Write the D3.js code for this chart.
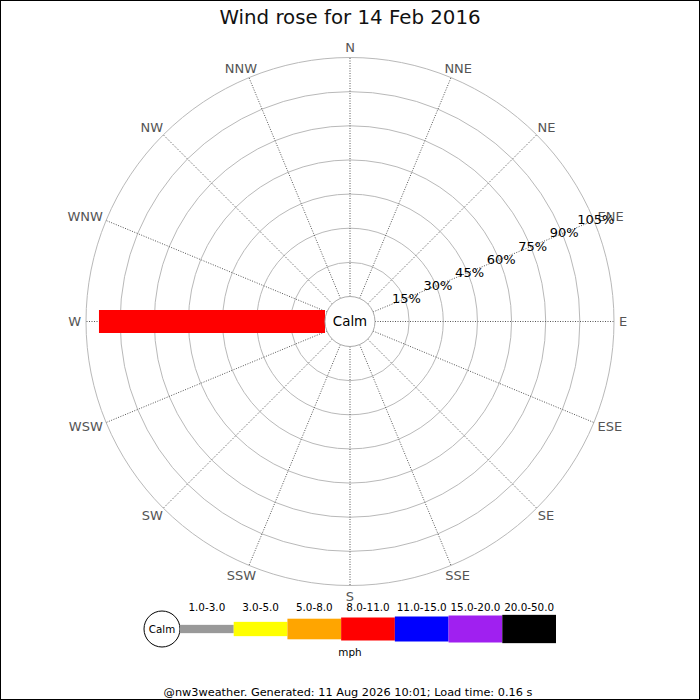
<!DOCTYPE html>
<html>
<head>
    <meta charset="utf-8">
    <script src="https://d3js.org/d3.v7.min.js"></script>
    <title>wind rose</title>
    <style>
        body { margin: 0; background: #fff; }
        text { font-family: "DejaVu Sans", sans-serif; }
    </style>
</head>
<body>
<svg id="rose"></svg>
<script>
    // compass points, clockwise from N
    const directions = ["N","NNE","NE","ENE","E","ESE","SE","SSE","S","SSW","SW","WSW","W","WNW","NW","NNW"];
    // speed classes (mph)
    const speedBins = ["1.0-3.0","3.0-5.0","5.0-8.0","8.0-11.0","11.0-15.0","15.0-20.0","20.0-50.0"];
    const binColors = ["#999999","#ffff00","#ffa500","#ff0000","#0000ff","#a020f0","#000000"];
    // % of time per direction, one value per speed class
    const dirShares = [
        [0,0,0,0,0,0,0],      // N
        [0,0,0,0,0,0,0],      // NNE
        [0,0,0,0,0,0,0],      // NE
        [0,0,0,0,0,0,0],      // ENE
        [0,0,0,0,0,0,0],      // E
        [0,0,0,0,0,0,0],      // ESE
        [0,0,0,0,0,0,0],      // SE
        [0,0,0,0,0,0,0],      // SSE
        [0,0,0,0,0,0,0],      // S
        [0,0,0,0,0,0,0],      // SSW
        [0,0,0,0,0,0,0],      // SW
        [0,0,0,0,0,0,0],      // WSW
        [0,0,0,99.3,0,0,0],   // W
        [0,0,0,0,0,0,0],      // WNW
        [0,0,0,0,0,0,0],      // NW
        [0,0,0,0,0,0,0]       // NNW
    ];
    const ringTicks = [15, 30, 45, 60, 75, 90, 105];
    const title = "Wind rose for 14 Feb 2016";
    const footer = "@nw3weather. Generated: 11 Aug 2026 10:01; Load time: 0.16 s";

    const width = 700, height = 700;
    const cx = 350, cy = 321.5;
    const calmR = 25, outerR = 264;
    // bar thickness per speed class
    const binThick = [8.3, 14.3, 20.6, 23, 25, 27, 28.3];

    let svg = d3.select("svg#rose")
                .attr("width", width)
                .attr("height", height);

    svg.append("rect")
       .attr("x", 0.5).attr("y", 0.5)
       .attr("width", width - 1).attr("height", height - 1)
       .attr("fill", "#fff")
       .attr("stroke", "#000");

    svg.append("text")
       .attr("x", cx).attr("y", 24)
       .attr("text-anchor", "middle")
       .style("font-size", "19.8px")
       .attr("fill", "#111")
       .text(title);

    const rScale = d3.scaleLinear()
                     .domain([0, 105])
                     .range([calmR, outerR]);
    const angle = d3.scalePoint()
                    .domain(directions)
                    .range([0, 360 - 22.5]);

    const polar = (a, r) => {
        const t = a * Math.PI / 180;
        return [cx + r * Math.sin(t), cy - r * Math.cos(t)];
    };

    let chart = svg.append("g");

    // rings
    chart.selectAll("circle.ring")
         .data(ringTicks)
         .enter()
         .append("circle")
         .attr("class", "ring")
         .attr("cx", cx).attr("cy", cy)
         .attr("r", d => rScale(d))
         .attr("fill", "none")
         .attr("stroke", "#b9b9b9")
         .attr("stroke-width", 1);

    // spokes
    chart.selectAll("line.spoke")
         .data(directions)
         .enter()
         .append("line")
         .attr("class", "spoke")
         .attr("x1", d => polar(angle(d), calmR)[0])
         .attr("y1", d => polar(angle(d), calmR)[1])
         .attr("x2", d => polar(angle(d), outerR)[0])
         .attr("y2", d => polar(angle(d), outerR)[1])
         .attr("stroke", "#555")
         .attr("stroke-width", 1)
         .attr("stroke-dasharray", "1,1.5");

    // stacked bars
    directions.forEach((dir, i) => {
        let acc = 0;
        let g = chart.append("g")
                     .attr("transform", `translate(${cx},${cy}) rotate(${angle(dir)})`);
        dirShares[i].forEach((v, k) => {
            if (v <= 0) return;
            const r0 = rScale(acc), r1 = rScale(acc + v);
            acc += v;
            g.append("rect")
             .attr("x", -binThick[k] / 2)
             .attr("y", -r1)
             .attr("width", binThick[k])
             .attr("height", r1 - r0)
             .attr("fill", binColors[k]);
        });
    });

    // calm circle
    chart.append("circle")
         .attr("cx", cx).attr("cy", cy).attr("r", calmR)
         .attr("fill", "#fff")
         .attr("stroke", "#aaa");
    chart.append("text")
         .attr("x", cx).attr("y", cy).attr("dy", "0.36em")
         .attr("text-anchor", "middle")
         .style("font-size", "13.4px")
         .text("Calm");

    // direction labels
    chart.selectAll("text.dir")
         .data(directions)
         .enter()
         .append("text")
         .attr("class", "dir")
         .attr("text-anchor", "middle")
         .attr("dy", "0.36em")
         .style("font-size", "13px")
         .attr("fill", "#555")
         .text(d => d)
         .each(function(d) {
             const a = angle(d) * Math.PI / 180;
             const w = this.getComputedTextLength();
             const p = polar(angle(d), outerR + 5);
             d3.select(this)
               .attr("x", p[0] + w / 2 * Math.sin(a))
               .attr("y", p[1] - 5.5 * Math.cos(a));
         });

    // ring labels along ENE
    chart.selectAll("text.pct")
         .data(ringTicks)
         .enter()
         .append("text")
         .attr("class", "pct")
         .attr("x", d => polar(angle("ENE"), rScale(d) + 2)[0])
         .attr("y", d => polar(angle("ENE"), rScale(d) + 2)[1])
         .attr("dy", "0.36em")
         .attr("text-anchor", "middle")
         .style("font-size", "13px")
         .attr("fill", "#000")
         .text(d => d + "%");

    // legend
    const legX = d3.scaleBand()
                   .domain(speedBins)
                   .range([180, 556]);
    const legY = 629;
    let legend = svg.append("g");
    legend.append("circle")
          .attr("cx", 162).attr("cy", legY).attr("r", 18)
          .attr("fill", "#fff")
          .attr("stroke", "#000");
    legend.append("text")
          .attr("x", 162).attr("y", legY).attr("dy", "0.36em")
          .attr("text-anchor", "middle")
          .style("font-size", "10.3px")
          .text("Calm");
    legend.selectAll("rect.leg")
          .data(speedBins)
          .enter()
          .append("rect")
          .attr("class", "leg")
          .attr("x", d => legX(d))
          .attr("y", (d, k) => legY - binThick[k] / 2)
          .attr("width", legX.bandwidth())
          .attr("height", (d, k) => binThick[k])
          .attr("fill", (d, k) => binColors[k]);
    legend.selectAll("text.leg")
          .data(speedBins)
          .enter()
          .append("text")
          .attr("class", "leg")
          .attr("x", d => legX(d) + legX.bandwidth() / 2)
          .attr("y", 611)
          .attr("text-anchor", "middle")
          .style("font-size", "10.4px")
          .text(d => d);
    legend.append("text")
          .attr("x", cx).attr("y", 656)
          .attr("text-anchor", "middle")
          .style("font-size", "10.4px")
          .text("mph");

    svg.append("text")
       .attr("x", 348).attr("y", 696)
       .attr("text-anchor", "middle")
       .style("font-size", "11.3px")
       .text(footer);
</script>
</body>
</html>
